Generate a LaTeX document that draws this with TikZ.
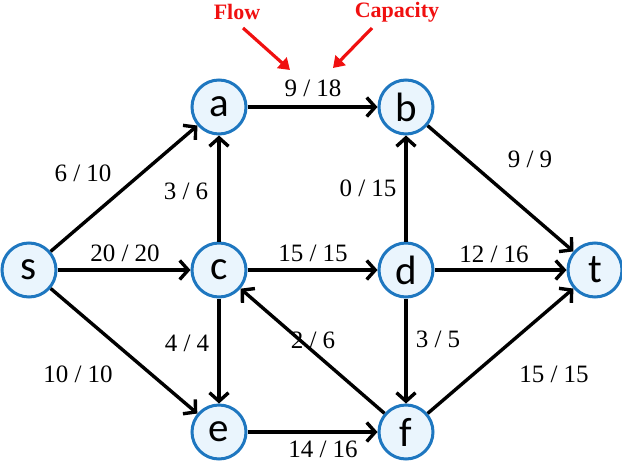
\documentclass[tikz,border=0pt]{standalone}
\usepackage{fontspec}
\setmainfont{Liberation Serif}
\newfontfamily\nodefont{Carlito}
\usetikzlibrary{arrows.meta}
\definecolor{ringblue}{HTML}{1E77C0}
\definecolor{vfill}{HTML}{EAF5FD}
\definecolor{notered}{HTML}{F01010}
\begin{document}
\begin{tikzpicture}[x=1pt,y=-1pt,
  vertex/.style={circle,draw=ringblue,fill=vfill,line width=3pt,minimum size=54pt,inner sep=0pt,font=\nodefont\fontsize{41}{41}\selectfont},
  flowedge/.style={draw=black,line width=3.4pt,-{Straight Barb[length=8.5pt,width=19pt,line width=3.4pt]}},
  elabel/.style={font=\fontsize{25}{25}\selectfont,inner sep=0pt},
  notelabel/.style={font=\bfseries\fontsize{22}{22}\selectfont,text=notered,inner sep=0pt},
  notearrow/.style={draw=notered,line width=3.2pt,-{Triangle[length=11pt,width=14pt]}}]
\useasboundingbox (0,0) rectangle (622,464);
% vertices
\node[vertex] (s) at (29,270) {s};
\node[vertex] (a) at (219,107) {a};
\node[vertex] (b) at (406,107) {b};
\node[vertex] (c) at (219,270) {c};
\node[vertex] (d) at (406,270) {d};
\node[vertex] (t) at (595,270) {t};
\node[vertex] (e) at (219,432) {e};
\node[vertex] (f) at (406,432) {f};
% edges
\draw[flowedge] (s) -- (a);
\draw[flowedge] (s) -- (c);
\draw[flowedge] (s) -- (e);
\draw[flowedge] (a) -- (b);
\draw[flowedge] (c) -- (a);
\draw[flowedge] (c) -- (d);
\draw[flowedge] (c) -- (e);
\draw[flowedge] (d) -- (b);
\draw[flowedge] (d) -- (t);
\draw[flowedge] (d) -- (f);
\draw[flowedge] (b) -- (t);
\draw[flowedge] (e) -- (f);
\draw[flowedge] (f) -- (c);
\draw[flowedge] (f) -- (t);
% flow / capacity labels
\node[elabel] (lab) at (313,88) {9 / 18};
\node[elabel] (lsa) at (83,173) {6 / 10};
\node[elabel] (lca) at (186,191) {3 / 6};
\node[elabel] (lsc) at (125,253) {20 / 20};
\node[elabel] (lcd) at (313,253) {15 / 15};
\node[elabel] (ldb) at (368,188) {0 / 15};
\node[elabel] (lbt) at (530,159) {9 / 9};
\node[elabel] (ldt) at (494,254) {12 / 16};
\node[elabel] (lce) at (187,343) {4 / 4};
\node[elabel] (lfc) at (313,340) {2 / 6};
\node[elabel] (ldf) at (438,339) {3 / 5};
\node[elabel] (lse) at (78,374) {10 / 10};
\node[elabel] (lft) at (554,374) {15 / 15};
\node[elabel,anchor=base] (lef) at (323,457) {14 / 16};
% annotations
\node[notelabel] (flow) at (237,12) {Flow};
\node[notelabel] (cap) at (397,12) {Capacity};
\coordinate (flowtip) at (290,70);
\coordinate (captip) at (333,68);
\draw[notearrow] (243,28) -- (flowtip);
\draw[notearrow] (372,28) -- (captip);
\end{tikzpicture}
\end{document}
